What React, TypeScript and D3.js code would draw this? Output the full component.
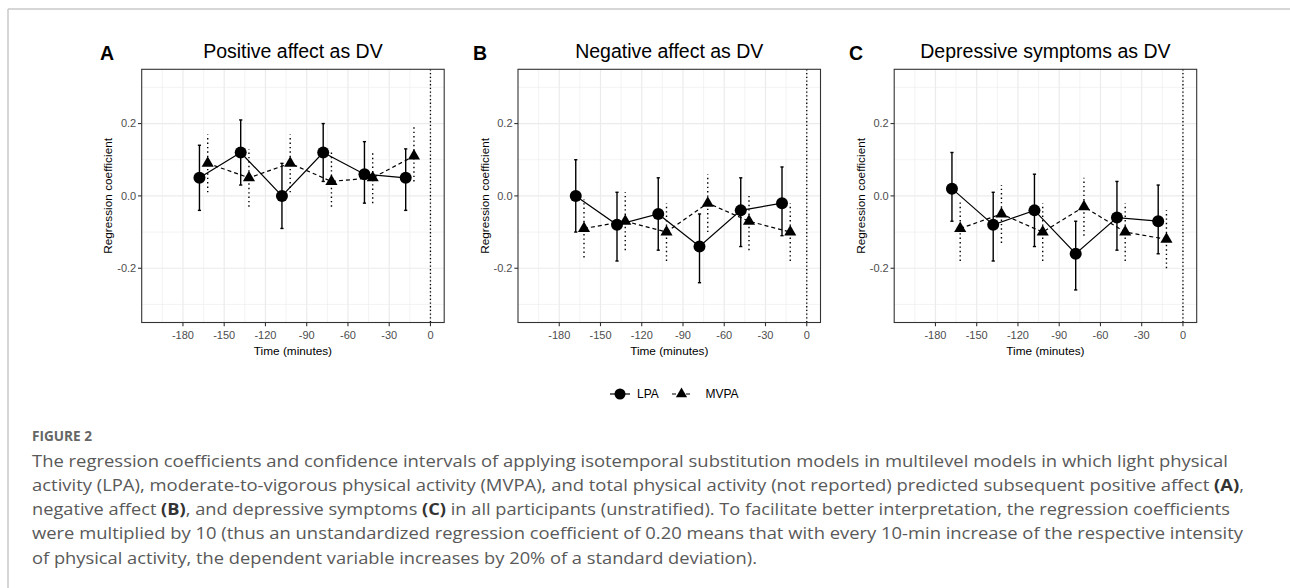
import * as d3 from 'd3';

// time points (minutes before outcome); LPA drawn slightly left, MVPA slightly right
const times = [-165, -135, -105, -75, -45, -15];
const dodge = 3;
const xTicks = [-180, -150, -120, -90, -60, -30, 0];
const xMinor = [-195, -165, -135, -105, -75, -45, -15];
const yTicks = [-0.2, 0, 0.2];
const yMinor = [-0.3, -0.1, 0.1, 0.3];
const panelLetters = ['A', 'B', 'C'];
const panelTitles = ['Positive affect as DV', 'Negative affect as DV', 'Depressive symptoms as DV'];

// positive affect
const posLpa = [0.05, 0.12, 0.0, 0.12, 0.06, 0.05];
const posLpaLo = [-0.04, 0.03, -0.09, 0.04, -0.02, -0.04];
const posLpaHi = [0.14, 0.21, 0.09, 0.2, 0.15, 0.13];
const posMvpa = [0.09, 0.05, 0.09, 0.04, 0.05, 0.11];
const posMvpaLo = [0.01, -0.03, 0.01, -0.03, -0.02, 0.04];
const posMvpaHi = [0.17, 0.13, 0.17, 0.12, 0.12, 0.19];

// negative affect
const negLpa = [0.0, -0.08, -0.05, -0.14, -0.04, -0.02];
const negLpaLo = [-0.1, -0.18, -0.15, -0.24, -0.14, -0.11];
const negLpaHi = [0.1, 0.01, 0.05, -0.05, 0.05, 0.08];
const negMvpa = [-0.09, -0.07, -0.1, -0.02, -0.07, -0.1];
const negMvpaLo = [-0.17, -0.15, -0.18, -0.1, -0.15, -0.18];
const negMvpaHi = [-0.01, 0.01, -0.02, 0.06, 0.0, -0.02];

// depressive symptoms
const depLpa = [0.02, -0.08, -0.04, -0.16, -0.06, -0.07];
const depLpaLo = [-0.07, -0.18, -0.14, -0.26, -0.15, -0.16];
const depLpaHi = [0.12, 0.01, 0.06, -0.07, 0.04, 0.03];
const depMvpa = [-0.09, -0.05, -0.1, -0.03, -0.1, -0.12];
const depMvpaLo = [-0.18, -0.13, -0.18, -0.11, -0.18, -0.2];
const depMvpaHi = [-0.01, 0.03, -0.02, 0.05, -0.02, -0.04];

const panels = [
  { lpa: posLpa, lpaLo: posLpaLo, lpaHi: posLpaHi, mvpa: posMvpa, mvpaLo: posMvpaLo, mvpaHi: posMvpaHi },
  { lpa: negLpa, lpaLo: negLpaLo, lpaHi: negLpaHi, mvpa: negMvpa, mvpaLo: negMvpaLo, mvpaHi: negMvpaHi },
  { lpa: depLpa, lpaLo: depLpaLo, lpaHi: depLpaHi, mvpa: depMvpa, mvpaLo: depMvpaLo, mvpaHi: depMvpaHi },
];

const captionLines = [
  [['The regression coefficients and confidence intervals of applying isotemporal substitution models in multilevel models in which light physical', false]],
  [['activity (LPA), moderate-to-vigorous physical activity (MVPA), and total physical activity (not reported) predicted subsequent positive affect ', false], ['(A)', true], [',', false]],
  [['negative affect ', false], ['(B)', true], [', and depressive symptoms ', false], ['(C)', true], [' in all participants (unstratified). To facilitate better interpretation, the regression coefficients', false]],
  [['were multiplied by 10 (thus an unstandardized regression coefficient of 0.20 means that with every 10-min increase of the respective intensity', false]],
  [['of physical activity, the dependent variable increases by 20% of a standard deviation).', false]],
];
// right end of each caption line in the reference
const captionEnds = [1228, 1244, 1230, 1243, 757];

const W = 1290;
const H = 588;
const panelW = 302.5;
const panelTop = 69.3;
const panelBottom = 322.5;
const panelLefts = [141.7, 518, 894.2];
const letterX = [100, 473, 849];
const font = 'Liberation Sans, Arial, sans-serif';
const fmt = (v) => d3.format('.1f')(v).replace('\u2212', '-');

const triangle = (r) => `M0,${-r}L${r * 0.866},${r / 2}L${-r * 0.866},${r / 2}Z`;

function Panel({ i }) {
  const d = panels[i];
  const x0 = panelLefts[i];
  const x = d3.scaleLinear().domain([-210, 10]).range([x0, x0 + panelW]);
  const y = d3.scaleLinear().domain([-0.35, 0.35]).range([panelBottom, panelTop]);
  const line = d3.line().x((p) => x(p[0])).y((p) => y(p[1]));
  const lpaPts = times.map((t, k) => [t - dodge, d.lpa[k]]);
  const mvpaPts = times.map((t, k) => [t + dodge, d.mvpa[k]]);
  const cx = x0 + panelW / 2;

  return (
    <g>
      <text x={letterX[i]} y={60} fontSize={19.5} fontWeight="bold" fontFamily={font}>{panelLetters[i]}</text>
      <text x={cx} y={58} fontSize={19.5} textAnchor="middle" fontFamily={font}>{panelTitles[i]}</text>

      {/* grid */}
      {xMinor.map((v) => (
        <line key={'xm' + v} x1={x(v)} x2={x(v)} y1={panelTop} y2={panelBottom} stroke="#ebebeb" strokeWidth={0.6} />
      ))}
      {yMinor.map((v) => (
        <line key={'ym' + v} x1={x0} x2={x0 + panelW} y1={y(v)} y2={y(v)} stroke="#ebebeb" strokeWidth={0.6} />
      ))}
      {xTicks.map((v) => (
        <line key={'xg' + v} x1={x(v)} x2={x(v)} y1={panelTop} y2={panelBottom} stroke="#ebebeb" strokeWidth={1.2} />
      ))}
      {yTicks.map((v) => (
        <line key={'yg' + v} x1={x0} x2={x0 + panelW} y1={y(v)} y2={y(v)} stroke="#ebebeb" strokeWidth={1.2} />
      ))}

      {/* reference line at time 0 */}
      <line x1={x(0)} x2={x(0)} y1={panelTop} y2={panelBottom} stroke="#000" strokeWidth={1.3} strokeDasharray="1.3 2.4" />

      {/* MVPA */}
      <path d={line(mvpaPts)} fill="none" stroke="#000" strokeWidth={1.2} strokeDasharray="4 3" />
      {times.map((t, k) => (
        <line key={'me' + k} x1={x(t + dodge)} x2={x(t + dodge)} y1={y(d.mvpaLo[k])} y2={y(d.mvpaHi[k])} stroke="#000" strokeWidth={1.4} strokeDasharray="1.4 3" />
      ))}
      {mvpaPts.map((p, k) => (
        <path key={'mp' + k} d={triangle(7)} transform={`translate(${x(p[0])},${y(p[1])})`} fill="#000" />
      ))}

      {/* LPA */}
      <path d={line(lpaPts)} fill="none" stroke="#000" strokeWidth={1.2} />
      {times.map((t, k) => {
        const xx = x(t - dodge);
        return (
          <g key={'le' + k} stroke="#000" strokeWidth={1.4}>
            <line x1={xx} x2={xx} y1={y(d.lpaLo[k])} y2={y(d.lpaHi[k])} />
            <line x1={xx - 1.6} x2={xx + 1.6} y1={y(d.lpaLo[k])} y2={y(d.lpaLo[k])} />
            <line x1={xx - 1.6} x2={xx + 1.6} y1={y(d.lpaHi[k])} y2={y(d.lpaHi[k])} />
          </g>
        );
      })}
      {lpaPts.map((p, k) => (
        <circle key={'lp' + k} cx={x(p[0])} cy={y(p[1])} r={6} fill="#000" />
      ))}

      {/* panel border */}
      <rect x={x0} y={panelTop} width={panelW} height={panelBottom - panelTop} fill="none" stroke="#333" strokeWidth={1.1} />

      {/* x axis */}
      {xTicks.map((v) => (
        <g key={'xt' + v}>
          <line x1={x(v)} x2={x(v)} y1={panelBottom} y2={panelBottom + 3.7} stroke="#333" strokeWidth={1.1} />
          <text x={x(v)} y={339} fontSize={11} textAnchor="middle" fill="#4d4d4d" fontFamily={font}>{v}</text>
        </g>
      ))}
      <text x={cx} y={355} fontSize={11.8} textAnchor="middle" fontFamily={font}>Time (minutes)</text>

      {/* y axis */}
      {yTicks.map((v) => (
        <g key={'yt' + v}>
          <line x1={x0 - 3.7} x2={x0} y1={y(v)} y2={y(v)} stroke="#333" strokeWidth={1.1} />
          <text x={x0 - 5.5} y={y(v) + 3.9} fontSize={11} textAnchor="end" fill="#4d4d4d" fontFamily={font}>{fmt(v)}</text>
        </g>
      ))}
      <text transform={`translate(${x0 - 29.5},${(panelTop + panelBottom) / 2}) rotate(-90)`} fontSize={11.8} textAnchor="middle" fontFamily={font}>Regression coefficient</text>
    </g>
  );
}

export default function App() {
  return (
    <svg width={W} height={H} style={{ position: 'absolute', left: 0, top: 0, background: '#fff' }}>
      <rect width={W} height={H} fill="#fff" />
      <line x1={8} x2={W} y1={9} y2={9} stroke="#c8c8c8" strokeWidth={1.5} />
      <line x1={8} x2={8} y1={9} y2={H} stroke="#c8c8c8" strokeWidth={1.5} />

      {[0, 1, 2].map((i) => <Panel key={i} i={i} />)}

      {/* legend */}
      <g fontFamily={font} fontSize={12}>
        <line x1={610} x2={630} y1={394} y2={394} stroke="#000" strokeWidth={1.2} />
        <circle cx={620} cy={394} r={5.5} fill="#000" />
        <text x={637} y={398.2}>LPA</text>
        <line x1={672} x2={691} y1={394} y2={394} stroke="#000" strokeWidth={1.2} strokeDasharray="4 3" />
        <path d={triangle(6.5)} transform="translate(681.5,394)" fill="#000" />
        <text x={705.5} y={398.2}>MVPA</text>
      </g>

      {/* caption */}
      <text x={32} y={441} fontSize={14.5} fontWeight="bold" fill="#666" fontFamily="Open Sans, sans-serif" textLength={60} lengthAdjust="spacingAndGlyphs">FIGURE 2</text>
      {captionLines.map((segs, li) => (
        <text key={li} x={32} y={466.5 + li * 24.3} fontSize={16.5} fill="#595959" fontFamily="Open Sans, sans-serif"
          textLength={captionEnds[li] - 32} lengthAdjust="spacingAndGlyphs">
          {segs.map(([s, b], k) => (
            <tspan key={k} fontWeight={b ? 'bold' : 'normal'} fill={b ? '#333' : '#595959'}>{s}</tspan>
          ))}
        </text>
      ))}
    </svg>
  );
}
